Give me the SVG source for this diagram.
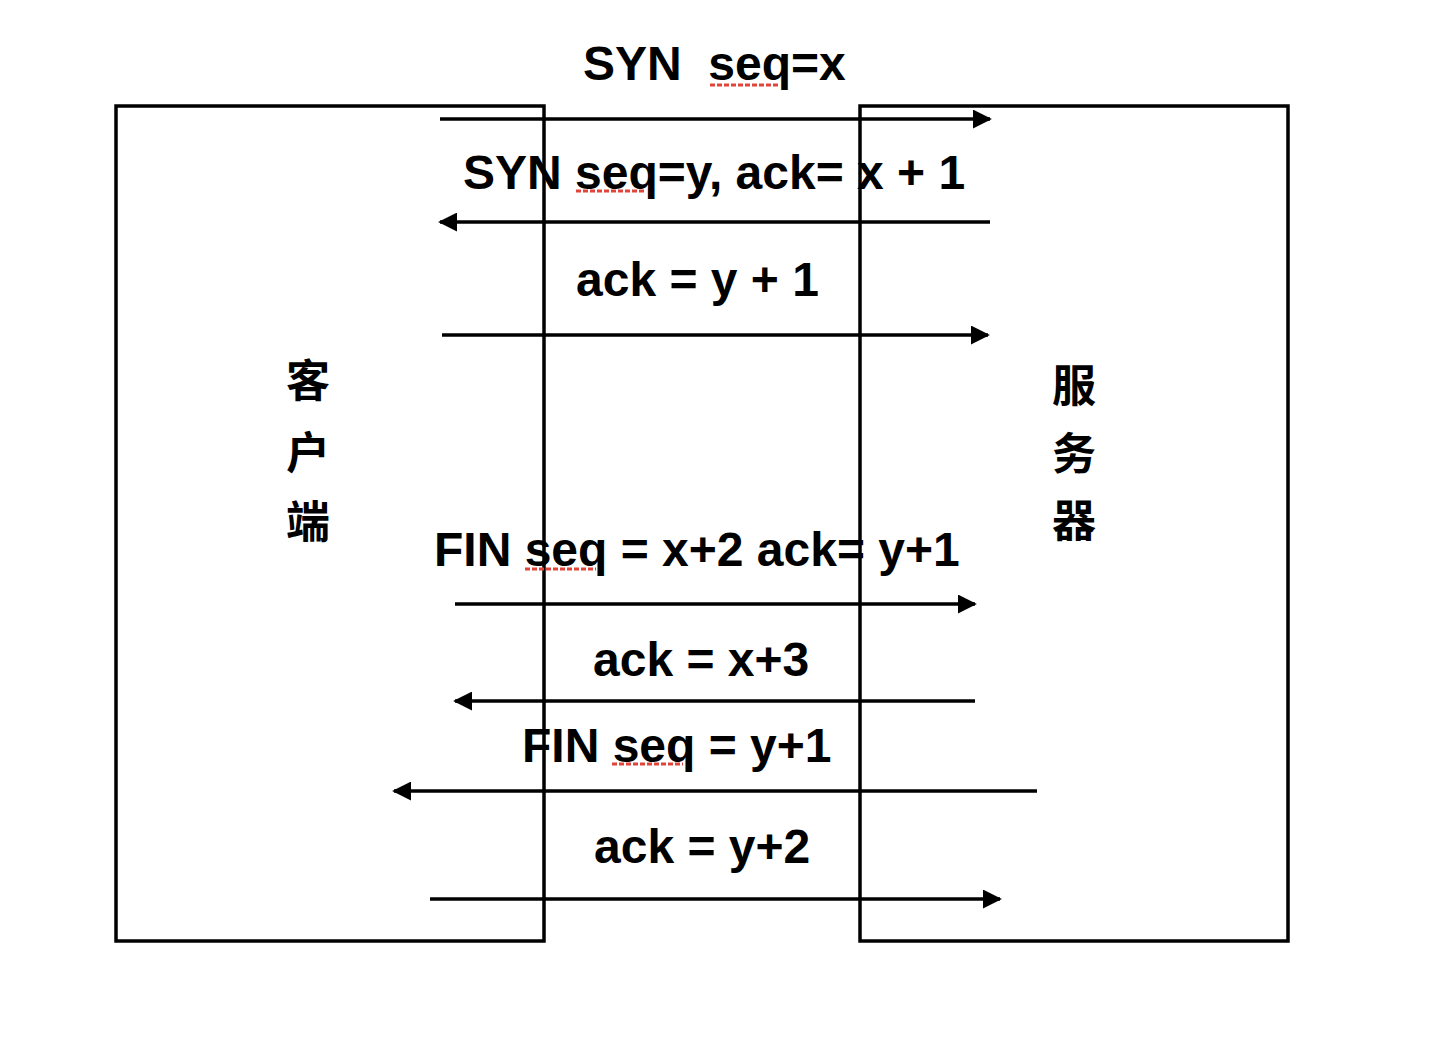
<svg xmlns="http://www.w3.org/2000/svg" width="1434" height="1042" viewBox="0 0 1434 1042">
<style>
.box{fill:none;stroke:#000;stroke-width:3.5}
.ln{stroke:#000;stroke-width:3.5;fill:none}
.lbl{font-family:"Liberation Sans","Noto Sans CJK SC",Arial,sans-serif;font-weight:bold;font-size:48px;fill:#000}
.cjk{font-family:"Noto Sans CJK SC","Liberation Sans",sans-serif;font-weight:700;font-size:44px;fill:#000;text-anchor:middle}
.sp{stroke:#e0443a;stroke-width:3;stroke-dasharray:5 2;fill:none}
</style>
<defs>
<marker id="ah" viewBox="0 0 10 10" refX="9" refY="5" markerWidth="19" markerHeight="19" markerUnits="userSpaceOnUse" orient="auto">
<path d="M0,0 L10,5 L0,10 z" fill="#000"/>
</marker>
</defs>
<rect width="1434" height="1042" fill="#fff"/>
<g id="client">
<rect class="box" x="116" y="106" width="428" height="835"/>
<text class="cjk" x="308" y="397">客</text>
<text class="cjk" x="308" y="469">户</text>
<text class="cjk" x="308" y="538">端</text>
</g>
<g id="server">
<rect class="box" x="860" y="106" width="428" height="835"/>
<text class="cjk" x="1074" y="402">服</text>
<text class="cjk" x="1074" y="470">务</text>
<text class="cjk" x="1074" y="537">器</text>
</g>
<g id="connectors">
<line class="ln" x1="440" y1="119" x2="990" y2="119" marker-end="url(#ah)"/>
<line class="ln" x1="990" y1="222" x2="440" y2="222" marker-end="url(#ah)"/>
<line class="ln" x1="442" y1="335" x2="988" y2="335" marker-end="url(#ah)"/>
<line class="ln" x1="455" y1="604" x2="975" y2="604" marker-end="url(#ah)"/>
<line class="ln" x1="975" y1="701" x2="455" y2="701" marker-end="url(#ah)"/>
<line class="ln" x1="1037" y1="791" x2="394" y2="791" marker-end="url(#ah)"/>
<line class="ln" x1="430" y1="899" x2="1000" y2="899" marker-end="url(#ah)"/>
</g>
<g id="labels">
<text class="lbl" x="583" y="80" xml:space="preserve">SYN  seq=x</text>
<line class="sp" x1="710" y1="85" x2="780" y2="85"/>
<text class="lbl" x="463" y="189">SYN seq=y, ack= x + 1</text>
<line class="sp" x1="576" y1="191" x2="645" y2="191"/>
<text class="lbl" x="576" y="296">ack = y + 1</text>
<text class="lbl" x="434" y="566">FIN seq = x+2 ack= y+1</text>
<line class="sp" x1="525" y1="569" x2="596" y2="569"/>
<text class="lbl" x="593" y="676">ack = x+3</text>
<text class="lbl" x="522" y="762">FIN seq = y+1</text>
<line class="sp" x1="612" y1="764" x2="683" y2="764"/>
<text class="lbl" x="594" y="863">ack = y+2</text>
</g>
</svg>
